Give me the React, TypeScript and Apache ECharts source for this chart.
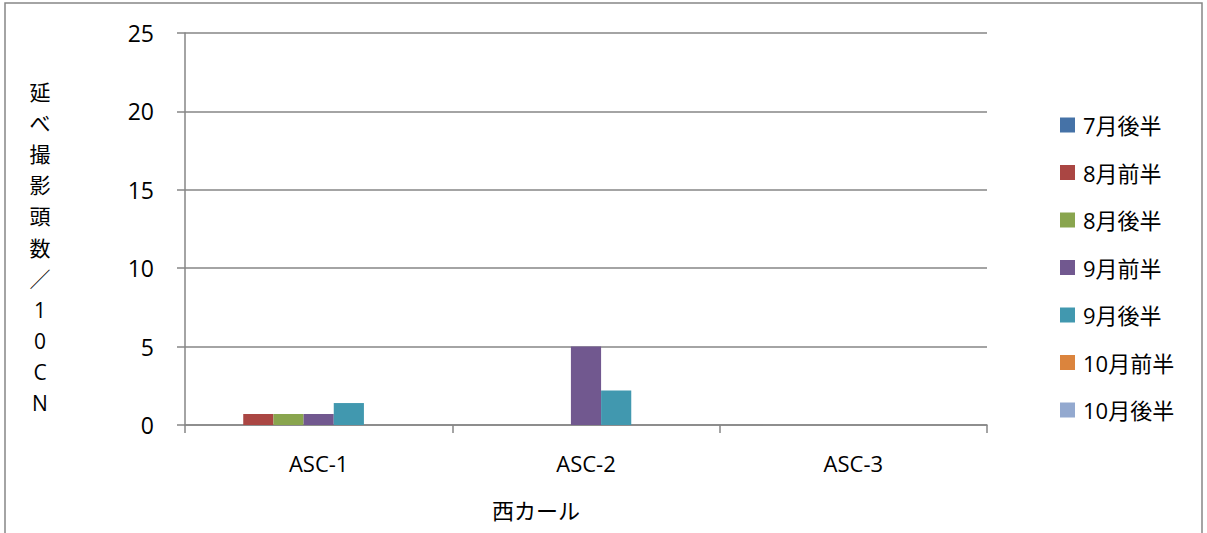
import React, { useEffect, useRef } from "react";
import * as echarts from "echarts";

const categories = ["ASC-1", "ASC-2", "ASC-3"];
const seriesNames = ["7月後半", "8月前半", "8月後半", "9月前半", "9月後半", "10月前半", "10月後半"];
const v7late = [0, 0, 0];
const v8early = [0.7, 0, 0];
const v8late = [0.7, 0, 0];
const v9early = [0.7, 5.0, 0];
const v9late = [1.4, 2.2, 0];
const v10early = [0, 0, 0];
const v10late = [0, 0, 0];
const seriesValues = [v7late, v8early, v8late, v9early, v9late, v10early, v10late];
const colors = ["#4572A7", "#AA4643", "#89A54E", "#71588F", "#4198AF", "#DB843D", "#93A9CF"];
const yTitleChars = ["延", "べ", "撮", "影", "頭", "数", "／", "1", "0", "C", "N"];
const xTitle = "西カール";

const FONT = "'Open Sans', 'Noto Sans CJK JP', sans-serif";

export default function App() {
  const ref = useRef<HTMLDivElement>(null);
  useEffect(() => {
    const chart = echarts.init(ref.current!, null, { renderer: "svg" });
    chart.setOption({
      animation: false,
      textStyle: { fontFamily: FONT, color: "#000" },
      color: colors,
      grid: { left: 185, right: 220, top: 33, bottom: 108 },
      legend: {
        orient: "vertical",
        left: 1055,
        top: 109,
        itemWidth: 15,
        itemHeight: 15,
        itemGap: 25.5,
        icon: "rect",
        textStyle: { fontSize: 22, color: "#000", fontFamily: FONT, padding: [0, 0, 0, 3] },
        data: seriesNames,
      },
      xAxis: {
        type: "category",
        data: categories,
        axisLine: { lineStyle: { color: "#868686", width: 1.5 } },
        axisTick: { show: true, length: 8, lineStyle: { color: "#868686", width: 1.5 } },
        axisLabel: { fontSize: 22, color: "#000", margin: 27 },
      },
      yAxis: {
        type: "value",
        min: 0,
        max: 25,
        interval: 5,
        axisLine: { show: true, lineStyle: { color: "#868686", width: 1.5 } },
        axisTick: { show: true, length: 8, lineStyle: { color: "#868686", width: 1.5 } },
        splitLine: { lineStyle: { color: "#868686", width: 1.5 } },
        axisLabel: { fontSize: 23, color: "#000", margin: 31 },
      },
      series: seriesNames.map((name, i) => ({
        name,
        type: "bar",
        data: seriesValues[i],
        barGap: "0%",
        barCategoryGap: "21%",
        itemStyle: { color: colors[i] },
      })),
      graphic: [
        {
          type: "rect",
          shape: { x: 5, y: 3, width: 1197, height: 540 },
          style: { fill: "none", stroke: "#868686", lineWidth: 1.5 },
          silent: true,
        },
        ...yTitleChars.map((c, i) => ({
          type: "text",
          x: 40,
          y: 92 + i * 31.1,
          style: {
            text: c,
            fontSize: 21,
            fontFamily: FONT,
            fill: "#000",
            align: "center",
            verticalAlign: "middle",
          },
        })),
        {
          type: "text",
          x: 536,
          y: 510,
          style: {
            text: xTitle,
            fontSize: 22,
            fontFamily: FONT,
            fill: "#000",
            align: "center",
            verticalAlign: "middle",
          },
        },
      ],
    });
    return () => chart.dispose();
  }, []);
  return (
    <div
      ref={ref}
      style={{ position: "fixed", left: 0, top: 0, width: 1207, height: 533, background: "#fff" }}
    />
  );
}
